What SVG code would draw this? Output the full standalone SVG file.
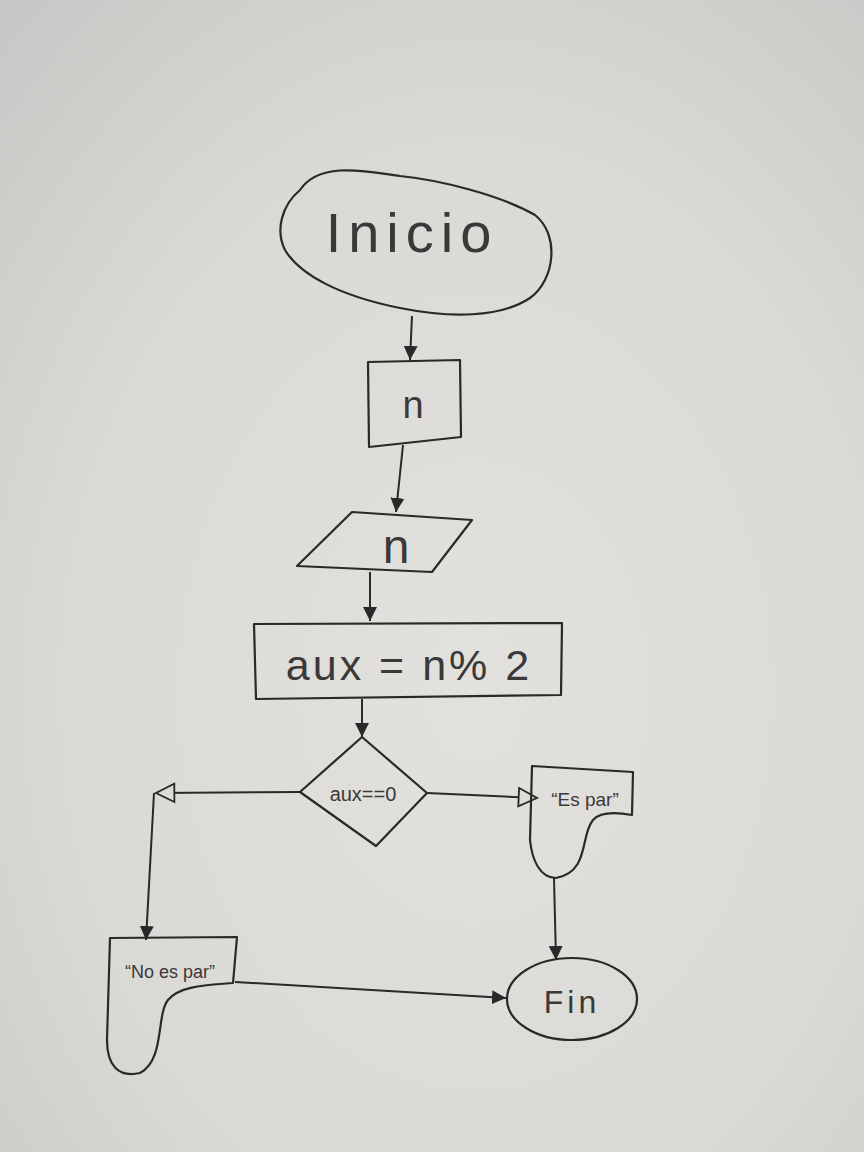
<svg xmlns="http://www.w3.org/2000/svg" width="864" height="1152" viewBox="0 0 864 1152">
<defs>
<radialGradient id="paper" cx="0.55" cy="0.6" r="0.8">
<stop offset="0" stop-color="#e3e1de"/>
<stop offset="0.6" stop-color="#dbd9d6"/>
<stop offset="1" stop-color="#c9c7c5"/>
</radialGradient>
<marker id="fill" viewBox="0 0 10 10" refX="10" refY="5" markerWidth="14" markerHeight="16" markerUnits="userSpaceOnUse" orient="auto">
<path d="M0,0 L10,5 L0,10 Z" fill="#2a2828"/>
</marker>
<marker id="open" viewBox="0 0 12 12" refX="11" refY="6" markerWidth="24" markerHeight="22" markerUnits="userSpaceOnUse" orient="auto">
<path d="M1,1 L11,6 L1,11 Z" fill="#dedcd9" stroke="#2a2828" stroke-width="1"/>
</marker>
</defs>
<style>
.s{fill:none;stroke:#2a2828;stroke-width:2.2;stroke-linejoin:round;stroke-linecap:round}
.c{fill:none;stroke:#2a2828;stroke-width:2}
.t{font-family:"Liberation Sans",Arial,sans-serif;fill:#3a3838;text-anchor:middle;font-weight:normal}
</style>
<rect width="864" height="1152" fill="url(#paper)"/>

<g id="connectors">
<path class="c" d="M412,316 L410,360" marker-end="url(#fill)"/>
<path class="c" d="M403,445 L396,512" marker-end="url(#fill)"/>
<path class="c" d="M370,572 L370,621" marker-end="url(#fill)"/>
<path class="c" d="M362,699 L362,737" marker-end="url(#fill)"/>
<path class="c" d="M300,792 L156,793" marker-end="url(#open)"/>
<path class="c" d="M154,793 L146,940" marker-end="url(#fill)"/>
<path class="c" d="M427,793 L537,798" marker-end="url(#open)"/>
<path class="c" d="M554,878 L556,960" marker-end="url(#fill)"/>
<path class="c" d="M235,982 L506,998" marker-end="url(#fill)"/>
</g>

<g id="inicio">
<path class="s" d="M300,190 C320,160 370,172 400,176 C440,180 500,195 535,215 C560,235 555,280 530,298 C500,318 450,318 400,308 C340,296 300,275 285,250 C275,230 282,205 300,190 Z"/>
<text class="t" x="412" y="252" font-size="56" letter-spacing="7">Inicio</text>
</g>

<g id="proceso-n">
<path class="s" d="M368,362 L460,360 L461,437 L369,447 Z"/>
<text class="t" x="413" y="418" font-size="38">n</text>
</g>

<g id="entrada-n">
<path class="s" d="M352,512 L472,520 L432,572 L297,566 Z"/>
<text class="t" x="396" y="563" font-size="48">n</text>
</g>

<g id="aux">
<path class="s" d="M254,624 L562,623 L561,695 L256,699 Z"/>
<text class="t" x="409" y="680" font-size="43" letter-spacing="3">aux = n% 2</text>
</g>

<g id="decision">
<path class="s" d="M362,737 L427,793 L376,846 L300,792 Z"/>
<text class="t" x="363" y="801" font-size="20">aux==0</text>
</g>

<g id="es-par">
<path class="s" d="M532,766 L633,772 L632,815 C615,812 600,812 593,820 C580,835 590,872 556,878 C540,878 532,860 530,840 Z"/>
<text class="t" x="585" y="806" font-size="19">“Es par”</text>
</g>

<g id="no-es-par">
<path class="s" d="M110,938 L237,937 L233,983 C210,985 180,985 168,1000 C156,1015 165,1060 140,1073 C118,1078 107,1065 107,1040 Z"/>
<text class="t" x="170" y="978" font-size="18">“No es par”</text>
</g>

<g id="fin">
<ellipse class="s" cx="572" cy="999" rx="65" ry="41"/>
<text class="t" x="572" y="1013" font-size="32" letter-spacing="4">Fin</text>
</g>
</svg>
